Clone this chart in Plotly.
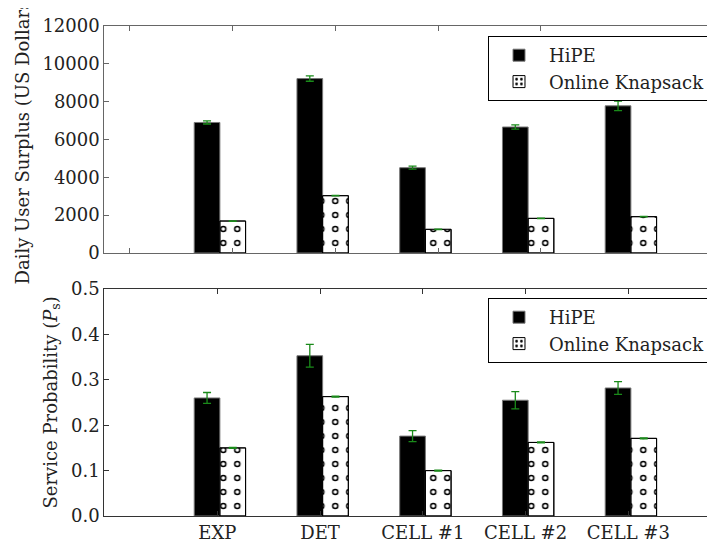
import numpy as np
import plotly.graph_objects as go

categories = ["EXP", "DET", "CELL #1", "CELL #2", "CELL #3"]

surplus_hipe = [6900, 9220, 4510, 6660, 7780]
surplus_hipe_err = [80, 140, 80, 110, 250]
surplus_knap = [1690, 3030, 1250, 1830, 1920]
surplus_knap_err = [12, 12, 12, 12, 12]

prob_hipe = [0.260, 0.353, 0.176, 0.255, 0.282]
prob_hipe_err = [0.012, 0.025, 0.012, 0.019, 0.014]
prob_knap = [0.150, 0.263, 0.100, 0.162, 0.171]
prob_knap_err = [0.001, 0.001, 0.001, 0.001, 0.001]

idx = np.arange(len(categories))
bar_start = 0.625
bar_w = 0.25
label_shift = 0.85
xs = idx + bar_start

FONT = "DejaVu Serif"
TXT = "#222222"
ERR = "#1a8a1a"

# page body margin (browser default) shifts the figure by 8px
OFF = 8
W, H = 715 - OFF, 543 - OFF


def fy(py):
    return 1 - (py - OFF) / H


def fx(px):
    return (px - OFF) / W


fig = go.Figure()


def add_group(yvals, yerr, kvals, kerr, xa, ya, legend):
    fig.add_trace(go.Bar(
        x=xs, y=yvals, offset=0, width=bar_w, name="HiPE",
        marker=dict(color="black", line=dict(color="#777777", width=1)),
        error_y=dict(type="data", array=yerr, color=ERR, thickness=1.3, width=4),
        xaxis=xa, yaxis=ya, legend=legend, showlegend=True,
    ))
    fig.add_trace(go.Bar(
        x=xs, y=kvals, offset=bar_w, width=bar_w, name="Online Knapsack",
        marker=dict(color="white", line=dict(color="black", width=1),
                    pattern=dict(shape=".", fgcolor="black", bgcolor="white",
                                 size=14, solidity=0.175, fillmode="replace")),
        xaxis=xa, yaxis=ya, showlegend=False, hoverinfo="skip",
    ))
    fig.add_trace(go.Bar(
        x=xs, y=kvals, offset=bar_w, width=bar_w, name="Online Knapsack",
        marker=dict(color="rgba(0,0,0,0)", line=dict(color="black", width=1),
                    pattern=dict(shape=".", fgcolor="white", bgcolor="rgba(0,0,0,0)",
                                 fgopacity=1, size=14, solidity=0.053, fillmode="overlay")),
        error_y=dict(type="data", array=kerr, color=ERR, thickness=1.3, width=4),
        xaxis=xa, yaxis=ya, showlegend=False, hoverinfo="skip",
    ))
    # legend entry for the hatched series
    fig.add_trace(go.Bar(
        x=[None], y=[None], name="Online Knapsack",
        marker=dict(color="white", line=dict(color="black", width=1),
                    pattern=dict(shape=".", fgcolor="black", bgcolor="white",
                                 size=6, solidity=0.25, fillmode="replace")),
        xaxis=xa, yaxis=ya, legend=legend, showlegend=True, hoverinfo="skip",
    ))


add_group(surplus_hipe, surplus_hipe_err, surplus_knap, surplus_knap_err, "x", "y", "legend")
add_group(prob_hipe, prob_hipe_err, prob_knap, prob_knap_err, "x2", "y2", "legend2")

left_px = 104.3
unit = 102.75
x_lo = -0.25
x_hi = x_lo + (715 - left_px) / unit

common_x = dict(range=[x_lo, x_hi], showgrid=False, zeroline=False, showline=True,
                linewidth=1, ticks="inside", ticklen=5,
                mirror="ticks", automargin=False)
common_y = dict(showgrid=False, zeroline=False, showline=True, linewidth=1,
                ticks="inside", ticklen=5, mirror=False, automargin=False)

legend_style = dict(xanchor="right", yanchor="top", bgcolor="white", bordercolor="black",
                    borderwidth=1, font=dict(family=FONT, size=18, color=TXT),
                    tracegroupgap=0, itemwidth=50)

fig.update_layout(
    width=W, height=H,
    margin=dict(l=0, r=0, t=0, b=0),
    paper_bgcolor="white", plot_bgcolor="white",
    font=dict(family=FONT, size=18, color=TXT),
    barmode="overlay",
    xaxis=dict(domain=[fx(left_px), 1], anchor="y", tickvals=list(idx),
               showticklabels=False, linecolor="#666666", tickcolor="#666666", **common_x),
    yaxis=dict(domain=[fy(253), fy(26)], anchor="x", range=[0, 12000], dtick=2000,
               tickformat="d", linecolor="#666666", tickcolor="#666666", **common_y),
    xaxis2=dict(domain=[fx(left_px), 1], anchor="y2", tickvals=list(idx + label_shift),
                ticktext=categories, linecolor="#333333", tickcolor="#333333", **common_x),
    yaxis2=dict(domain=[fy(516), fy(289)], anchor="x2", range=[0, 0.5], dtick=0.1,
                tickformat=".1f", linecolor="#333333", tickcolor="#333333", **common_y),
    legend=dict(x=fx(711), y=fy(36), **legend_style),
    legend2=dict(x=fx(711), y=fy(298), **legend_style),
    annotations=[
        dict(text="Daily User Surplus (US Dollars)", xref="paper", yref="paper",
             x=fx(22), y=fy(139.5), xanchor="center", yanchor="middle",
             textangle=-90, showarrow=False, font=dict(family=FONT, size=18, color=TXT)),
        dict(text="Service Probability (<i>P</i><sub>s</sub>)", xref="paper", yref="paper",
             x=fx(51), y=fy(402.5), xanchor="center", yanchor="middle",
             textangle=-90, showarrow=False, font=dict(family=FONT, size=18, color=TXT)),
    ],
)

fig.write_html("out.html")
